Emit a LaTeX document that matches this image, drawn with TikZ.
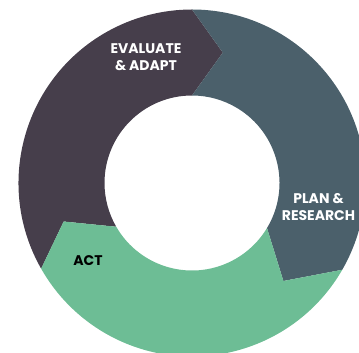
\documentclass[tikz,border=0pt]{standalone}
\usepackage{fontspec}
\setmainfont{Poppins}
\definecolor{evalc}{HTML}{463E4B}
\definecolor{planc}{HTML}{4B606B}
\definecolor{actc}{HTML}{6DBD95}
\tikzset{
  seglabel/.style={font=\bfseries\fontsize{14}{17}\selectfont, align=center, inner sep=0pt},
  whitelabel/.style={seglabel, text=white},
}
\begin{document}
\begin{tikzpicture}[x=1pt,y=1pt]
\useasboundingbox (0,0) rectangle (359,353);
\clip (0,0) rectangle (359,353);
\def\ro{173.5pt}
\def\ri{87.5pt}
\def\rt{134pt}
\begin{scope}[shift={(192,170)}]
  % Evaluate & Adapt
  \fill[evalc] (209.6:\ro) arc[start angle=209.6, end angle=90, radius=\ro]
    -- (76.7:\rt) -- (90:\ri)
    arc[start angle=90, end angle=210, radius=\ri]
    -- (196.7:\rt) -- cycle;
  % Plan & Research
  \fill[planc] (90:\ro) arc[start angle=90, end angle=-30, radius=\ro]
    -- (-47:\rt) -- (-31:\ri)
    arc[start angle=-31, end angle=90, radius=\ri]
    -- (76.7:\rt) -- cycle;
  % Act
  \fill[actc] (-30:\ro) arc[start angle=-30, end angle=-150.4, radius=\ro]
    -- (196.7:\rt) -- (210:\ri)
    arc[start angle=210, end angle=329, radius=\ri]
    -- (-47:\rt) -- cycle;
\end{scope}
\node[whitelabel] (eval) at (146,296) {EVALUATE\\\& ADAPT};
\node[whitelabel] (plan) at (318.5,146) {PLAN \&\\RESEARCH};
\node[seglabel, text=black] (act) at (88,92.5) {ACT};
\end{tikzpicture}
\end{document}
